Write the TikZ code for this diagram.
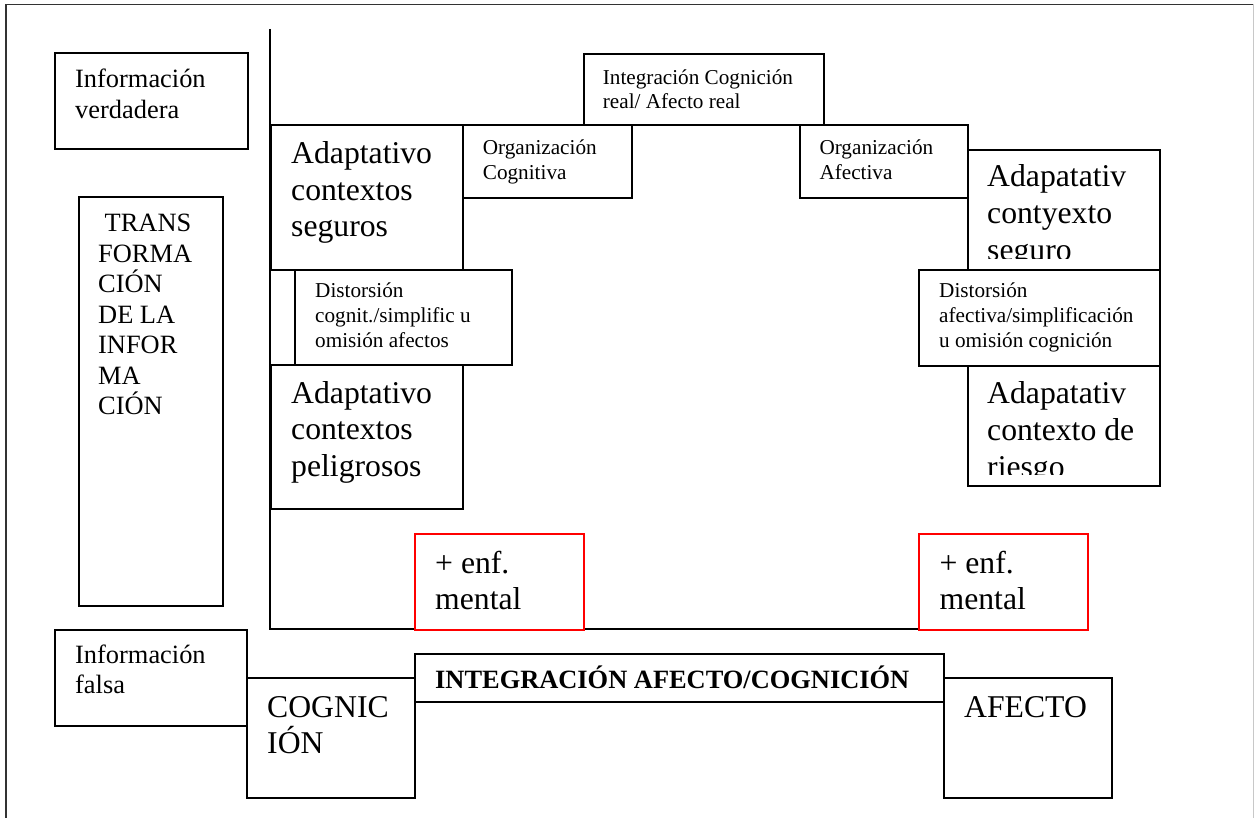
\documentclass[tikz,border=0pt]{standalone}
\usepackage{fontspec}
\setmainfont{Liberation Serif}
\newcommand{\bigf}{\fontsize{31.7}{36.8}\selectfont}
\newcommand{\medf}{\fontsize{26.4}{30.5}\selectfont}
\newcommand{\smlf}{\fontsize{21.2}{24.7}\selectfont}
\definecolor{framegray}{HTML}{333333}
\definecolor{lightframe}{HTML}{C8C8C8}
\definecolor{boxred}{HTML}{FF0000}
\tikzset{
  box/.style={draw=black, line width=1.8pt, fill=white, inner sep=0pt, anchor=north west},
  redbox/.style={box, draw=boxred},
  lbl/.style={anchor=base west, inner sep=0pt},
  bracket/.style={draw=black, line width=1.8pt},
}
\begin{document}
\begin{tikzpicture}[x=1pt,y=-1pt]
\useasboundingbox (0,0) rectangle (1254,818);
% page frame
\coordinate (fTL) at (6,4.5);
\coordinate (fTR) at (1253,4.5);
\coordinate (fBL) at (6,818);
\coordinate (fBR) at (1253,818);
\draw[framegray, line width=1.7pt] (fBL) -- (fTL) -- (fTR);
\draw[lightframe, line width=1pt] (fTR) -- (fBR);

% bracket lines
\coordinate (vtop) at (270,29);
\coordinate (vcorner) at (270,629);
\coordinate (hend) at (918,629);
\draw[bracket] (vtop) -- (vcorner) -- (hend);

% left column
\node[box, minimum width=193pt, minimum height=96pt] (iv) at (54,52) {};
\node[lbl] (ivt) at (75,88) {\parbox[t]{180pt}{\medf Información\\verdadera}};

\node[box, minimum width=144pt, minimum height=409pt] (tr) at (78,196) {};
\node[lbl] (trt) at (98,231.7) {\parbox[t]{130pt}{\medf \hspace*{6.5pt}TRANS\\FORMA\\CIÓN\\DE LA\\INFOR\\MA\\CIÓN}};

% top row
\node[box, minimum width=240pt, minimum height=71pt] (ir) at (583,53) {};
\node[lbl] (irt) at (602.7,85) {\parbox[t]{230pt}{\smlf Integración Cognición\\[-1.3pt]real/ Afecto real}};

\node[box, minimum width=192pt, minimum height=145pt] (ads) at (270,124) {};
\node[lbl] (adst) at (291,163.3) {\parbox[t]{180pt}{\bigf Adaptativo\\contextos\\seguros}};

\node[box, minimum width=169pt, minimum height=73pt] (oc) at (462,124) {};
\node[lbl] (oct) at (482.7,155) {\parbox[t]{160pt}{\smlf Organización\\Cognitiva}};

\node[box, minimum width=168pt, minimum height=73pt] (oa) at (799,124) {};
\node[lbl] (oat) at (819.3,155) {\parbox[t]{160pt}{\smlf Organización\\Afectiva}};

% right upper box (clipped text)
\node[box, minimum width=192pt, minimum height=120pt] (acs) at (967,149) {};
\begin{scope}
\clip (967,149) rectangle (1159,258.3);
\node[lbl] (acst) at (987,186.7) {\parbox[t]{180pt}{\bigf Adapatativ\\contyexto\\seguro}};
\end{scope}

% distortion boxes
\node[box, minimum width=217pt, minimum height=95pt] (dc) at (294,269) {};
\node[lbl] (dct) at (315,298) {\parbox[t]{200pt}{\smlf Distorsión\\cognit./simplific u\\omisión afectos}};

\node[box, minimum width=241pt, minimum height=96pt] (da) at (918,269) {};
\node[lbl] (dat) at (939,298) {\parbox[t]{230pt}{\smlf Distorsión\\afectiva/simplificación\\u omisión cognición}};

% lower adaptive boxes
\node[box, minimum width=192pt, minimum height=144pt] (adp) at (270,364) {};
\node[lbl] (adpt) at (291,403) {\parbox[t]{180pt}{\bigf Adaptativo\\contextos\\peligrosos}};

\node[box, minimum width=192pt, minimum height=120pt] (acr) at (967,365) {};
\begin{scope}
\clip (967,365) rectangle (1159,474);
\node[lbl] (acrt) at (987,404) {\parbox[t]{180pt}{\bigf Adapatativ\\contexto de\\riesgo}};
\end{scope}

% red boxes
\node[redbox, minimum width=169pt, minimum height=96pt] (red1) at (414,533) {};
\node[lbl] (red1t) at (435,573) {\parbox[t]{150pt}{\bigf + enf.\\mental}};
\node[redbox, minimum width=169pt, minimum height=96pt] (red2) at (918,533) {};
\node[lbl] (red2t) at (939.4,573) {\parbox[t]{150pt}{\bigf + enf.\\mental}};

% bottom row
\node[box, minimum width=192pt, minimum height=96pt] (if) at (54,629) {};
\node[lbl] (ift) at (75,663.3) {\parbox[t]{180pt}{\medf Información\\falsa}};

\node[box, minimum width=168pt, minimum height=120pt] (cog) at (246,677) {};
\node[lbl] (cogt) at (267,717) {\parbox[t]{160pt}{\bigf COGNIC\\IÓN}};

\node[box, minimum width=529pt, minimum height=48pt] (int) at (414,653) {};
\node[lbl] (intt) at (435,688) {\medf\bfseries INTEGRACIÓN AFECTO/COGNICIÓN};

\node[box, minimum width=168pt, minimum height=120pt] (af) at (943,677) {};
\node[lbl] (aft) at (964,717) {\bigf AFECTO};
\end{tikzpicture}
\end{document}
